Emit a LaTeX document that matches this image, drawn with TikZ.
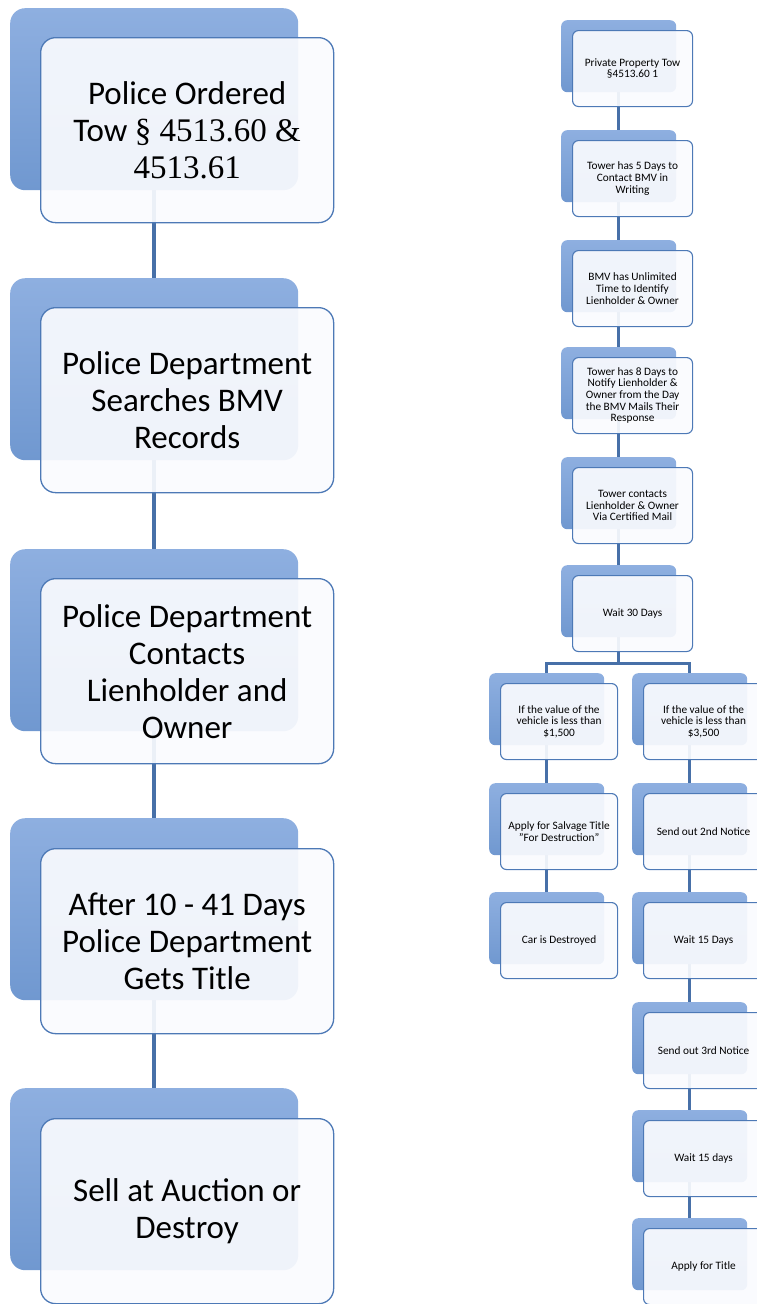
\documentclass[tikz,border=0pt]{standalone}
\usepackage{fontspec}
\setmainfont{Carlito}
\newfontfamily\serifpart{Liberation Serif}
\usetikzlibrary{calc}
\definecolor{backT}{HTML}{8EAFE0}
\definecolor{backB}{HTML}{7098D0}
\definecolor{frontD}{HTML}{4D79B6}
\definecolor{frontF}{HTML}{FAFBFE}
\definecolor{conn}{HTML}{4770A8}
\pgfdeclarelayer{background}
\pgfsetlayers{background,main}
\tikzset{
  bigback/.style={rectangle, rounded corners=15pt, top color=backT, bottom color=backB,
    draw=none, minimum width=288pt, minimum height=182pt, anchor=north west, inner sep=0pt},
  bigfront/.style={rectangle, rounded corners=15pt, draw=frontD, line width=1.3pt,
    fill=frontF, fill opacity=0.92, text opacity=1, minimum width=293pt, minimum height=185pt,
    anchor=north west, align=center, font=\fontsize{33}{37}\selectfont, inner sep=4pt},
  smallback/.style={rectangle, rounded corners=6pt, top color=backT, bottom color=backB,
    draw=none, minimum width=115pt, minimum height=72pt, anchor=north west, inner sep=0pt},
  smallfront/.style={rectangle, rounded corners=6pt, draw=frontD, line width=1.1pt,
    fill=frontF, fill opacity=0.92, text opacity=1, minimum width=120pt, minimum height=76pt,
    anchor=north west, align=center, font=\fontsize{11.3}{11.7}\selectfont, inner sep=2pt},
  bigconn/.style={draw=conn, line width=4pt},
  smallconn/.style={draw=conn, line width=3.2pt},
}
\begin{document}
\begin{tikzpicture}[x=1pt,y=-1pt]
\useasboundingbox (0,0) rectangle (757,1304);
\clip (0,0) rectangle (757,1304);
% ---------------- left column ----------------
\node[bigback] (B1) at (10,8) {};
\node[bigfront] (F1) at (40,37) {Police Ordered\\Tow {\serifpart\S\ 4513.60 \&}\\{\serifpart 4513.61}};
\node[bigback] (B2) at (10,278) {};
\node[bigfront] (F2) at (40,307) {Police Department\\Searches BMV\\Records};
\node[bigback] (B3) at (10,549) {};
\node[bigfront] (F3) at (40,578) {Police Department\\Contacts\\Lienholder and\\Owner};
\node[bigback] (B4) at (10,818) {};
\node[bigfront] (F4) at (40,848) {After 10 - 41 Days\\Police Department\\Gets Title};
\node[bigback] (B5) at (10,1088) {};
\node[bigfront] (F5) at (40,1118) {Sell at Auction or\\Destroy};
% ---------------- right: main column ----------------
\node[smallback] (rb1) at (561,20) {};
\node[smallfront] (r1) at (572,30) {Private Property Tow\\\S4513.60 1};
\node[smallback] (rb2) at (561,130) {};
\node[smallfront] (r2) at (572,140) {Tower has 5 Days to\\Contact BMV in\\Writing};
\node[smallback] (rb3) at (561,240) {};
\node[smallfront] (r3) at (572,250) {BMV has Unlimited\\Time to Identify\\Lienholder \& Owner};
\node[smallback] (rb4) at (561,347) {};
\node[smallfront] (r4) at (572,357) {Tower has 8 Days to\\Notify Lienholder \&\\Owner from the Day\\the BMV Mails Their\\Response};
\node[smallback] (rb5) at (561,457) {};
\node[smallfront] (r5) at (572,467) {Tower contacts\\Lienholder \& Owner\\Via Certified Mail};
\node[smallback] (rb6) at (561,565) {};
\node[smallfront] (r6) at (572,575) {Wait 30 Days};
% ---------------- left branch ----------------
\node[smallback] (lb1) at (489,673) {};
\node[smallfront,minimum width=117pt] (l1) at (500,683) {If the value of the\\vehicle is less than\\\$1,500};
\node[smallback] (lb2) at (489,783) {};
\node[smallfront,minimum width=117pt] (l2) at (500,793) {Apply for Salvage Title\\"For Destruction"};
\node[smallback] (lb3) at (489,892) {};
\node[smallfront,minimum width=117pt] (l3) at (500,902) {Car is Destroyed};
% ---------------- right branch ----------------
\node[smallback] (sb1) at (632,673) {};
\node[smallfront] (s1) at (643,683) {If the value of the\\vehicle is less than\\\$3,500};
\node[smallback] (sb2) at (632,783) {};
\node[smallfront] (s2) at (643,793) {Send out 2nd Notice};
\node[smallback] (sb3) at (632,892) {};
\node[smallfront] (s3) at (643,902) {Wait 15 Days};
\node[smallback] (sb4) at (632,1002) {};
\node[smallfront] (s4) at (643,1012) {Send out 3rd Notice};
\node[smallback] (sb5) at (632,1110) {};
\node[smallfront] (s5) at (643,1120) {Wait 15 days};
\node[smallback] (sb6) at (632,1218) {};
\node[smallfront] (s6) at (643,1228) {Apply for Title};
% ---------------- connectors ----------------
\begin{pgfonlayer}{background}
  \draw[bigconn] (B1.south) -- (B2.north);
  \draw[bigconn] (B2.south) -- (B3.north);
  \draw[bigconn] (B3.south) -- (B4.north);
  \draw[bigconn] (B4.south) -- (B5.north);
  \draw[smallconn] (rb1.south) -- (rb2.north);
  \draw[smallconn] (rb2.south) -- (rb3.north);
  \draw[smallconn] (rb3.south) -- (rb4.north);
  \draw[smallconn] (rb4.south) -- (rb5.north);
  \draw[smallconn] (rb5.south) -- (rb6.north);
  \coordinate (fork) at ($(rb6.south)+(0,26)$);
  \draw[smallconn] (rb6.south) -- (fork);
  \draw[smallconn] (lb1.north) |- (fork) -| (sb1.north);
  \draw[smallconn] (lb1.south) -- (lb2.north);
  \draw[smallconn] (lb2.south) -- (lb3.north);
  \draw[smallconn] (sb1.south) -- (sb2.north);
  \draw[smallconn] (sb2.south) -- (sb3.north);
  \draw[smallconn] (sb3.south) -- (sb4.north);
  \draw[smallconn] (sb4.south) -- (sb5.north);
  \draw[smallconn] (sb5.south) -- (sb6.north);
\end{pgfonlayer}
\end{tikzpicture}
\end{document}
